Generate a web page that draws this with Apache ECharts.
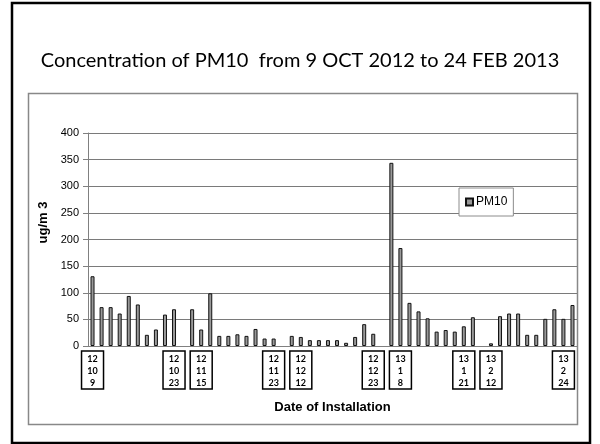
<!DOCTYPE html>
<html>
<head>
<meta charset="UTF-8">
<title>PM10</title>
<script type="text/javascript" src="https://cdn.jsdelivr.net/npm/echarts@6/dist/echarts.min.js"></script>
<style type="text/css">
body {
	margin: 0;
	background-color: #FFFFFF
}
</style>
</head>
<body>
	<div id="chart" style="width: 600px; height: 444px"></div>
</body>
<script type="text/javascript">
	// values, one per sample (ug/m3), '-' = no bar
	var pm10 = [131, 73, 73, 61, 94, 78, 21, 31, 59, 69,
		'-', 69, 31, 99, 19, 19, 22, 19, 32, 14,
		14, '-', 19, 17, 11, 11, 11, 11, 6, 17,
		41, 23, '-', 344, 184, 81, 65, 52, 27, 30,
		27, 37, 54, '-', 5, 56, 61, 61, 21, 21,
		51, 69, 51, 77];
	// date boxes under the axis (yy / m / d), empty where there is none
	var dateLabels = [];
	for (var i = 0; i < pm10.length; i++) dateLabels[i] = '';
	dateLabels[0] = '12\n10\n9';
	dateLabels[9] = '12\n10\n23';
	dateLabels[12] = '12\n11\n15';
	dateLabels[20] = '12\n11\n23';
	dateLabels[23] = '12\n12\n12';
	dateLabels[31] = '12\n12\n23';
	dateLabels[34] = '13\n1\n8';
	dateLabels[41] = '13\n1\n21';
	dateLabels[44] = '13\n2\n12';
	dateLabels[52] = '13\n2\n24';
	var yTicks = [0, 400, 50];

	var narrow = "'Liberation Sans', Arial, sans-serif";

	function initChart() {
		var myChart = echarts.init(document.getElementById("chart"));
		var boxStyle = {
			borderColor : '#000',
			borderWidth : 1.5,
			padding : [ 2, 4, 0, 4 ],
			width : 14,
			align : 'center'
		};
		var cats = [];
		$each(dateLabels, function(i, d) {
			cats[i] = d ? { value : String(i + 1), textStyle : boxStyle } : String(i + 1);
		});
		var option = {
			animation : false,
			title : {
				text : 'Concentration of PM10  from 9 OCT 2012 to 24 FEB 2013',
				left : 'center',
				top : 46,
				textStyle : {
					fontFamily : 'Lato',
					fontWeight : 'normal',
					fontSize : 20,
					color : '#000'
				}
			},
			legend : {
				data : [ 'PM10' ],
				left : 459,
				top : 188,
				padding : [ 8, 6, 8, 6 ],
				borderColor : '#8c8c8c',
				borderWidth : 1,
				backgroundColor : '#fff',
				icon : 'rect',
				itemWidth : 7,
				itemHeight : 7,
				itemGap : 3,
				textStyle : {
					fontFamily : narrow,
					fontSize : 12,
					color : '#000',
					padding : [ 0, 0, 0, -2 ]
				}
			},
			grid : {
				left : 88,
				right : 23,
				top : 133,
				bottom : 98
			},
			xAxis : {
				type : 'category',
				data : cats,
				name : 'Date of Installation',
				nameLocation : 'middle',
				nameGap : 55,
				nameTextStyle : {
					fontFamily : narrow,
					fontWeight : 'bold',
					fontSize : 13,
					color : '#000'
				},
				axisLine : {
					lineStyle : { color : '#808080' }
				},
				axisTick : { show : false },
				axisLabel : {
					interval : 0,
					margin : 5,
					fontFamily : 'Lato',
					fontWeight : 'bold',
					fontSize : 9,
					lineHeight : 12,
					color : '#000',
					formatter : function(v, i) {
						return dateLabels[i];
					}
				}
			},
			yAxis : {
				type : 'value',
				min : yTicks[0],
				max : yTicks[1],
				interval : yTicks[2],
				name : 'ug/m 3',
				nameLocation : 'middle',
				nameGap : 36,
				nameTextStyle : {
					fontFamily : narrow,
					fontWeight : 'bold',
					fontSize : 13,
					color : '#000',
					padding : [ 0, 0, 0, 34 ]
				},
				axisLine : {
					show : true,
					lineStyle : { color : '#808080' }
				},
				axisTick : {
					show : true,
					length : 5,
					lineStyle : { color : '#808080' }
				},
				splitLine : {
					lineStyle : { color : '#7a7a7a', width : 1 }
				},
				axisLabel : {
					margin : 9,
					fontFamily : narrow,
					fontSize : 11,
					color : '#000'
				}
			},
			graphic : [ {
				type : 'rect',
				silent : true,
				z : -10,
				shape : { x : 12, y : 3, width : 578, height : 440 },
				style : { fill : 'none', stroke : '#000', lineWidth : 2.5 }
			}, {
				type : 'rect',
				silent : true,
				z : -10,
				shape : { x : 28.5, y : 93.5, width : 549, height : 331 },
				style : { fill : 'none', stroke : '#888', lineWidth : 1.5 }
			} ],
			series : [ {
				name : 'PM10',
				type : 'bar',
				barWidth : 4,
				itemStyle : {
					color : '#999999',
					borderColor : '#111',
					borderWidth : 1
				},
				data : pm10
			} ]
		};
		myChart.setOption(option);
	}
	function $each(arr, fn) {
		for (var i = 0; i < arr.length; i++) fn(i, arr[i]);
	}
	initChart();
</script>
</html>
